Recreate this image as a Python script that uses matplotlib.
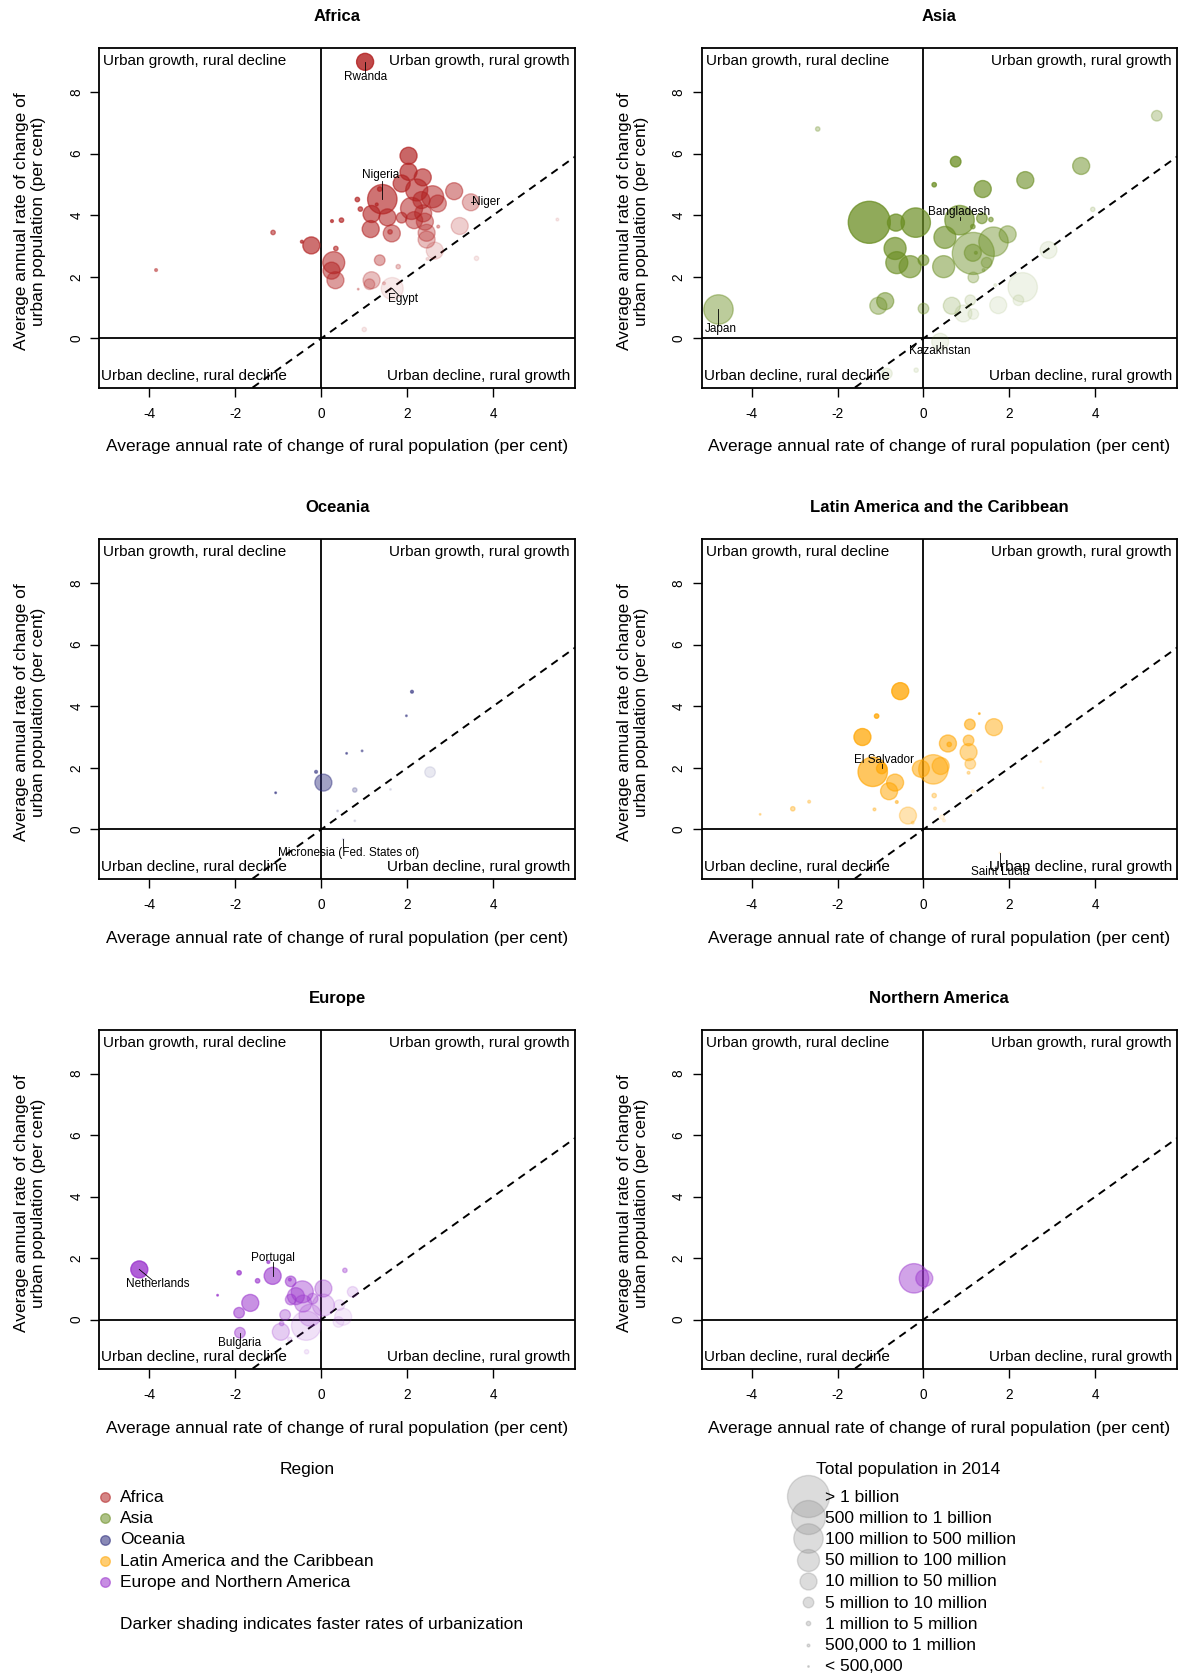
import numpy as np
import matplotlib
matplotlib.use("Agg")
import matplotlib.pyplot as plt
from matplotlib import colors as mcolors

plt.rcParams['font.family'] = ['Liberation Sans', 'DejaVu Sans']
plt.rcParams['axes.unicode_minus'] = False

# population class: 0 >1bn, 1 500m-1bn, 2 100-500m, 3 50-100m, 4 10-50m,
# 5 5-10m, 6 1-5m, 7 500k-1m, 8 <500k
africa_rural = [1.02, 2.03, 2.03, 2.36, 1.42, 1.87, 2.22, 2.59, 2.33, 2.71, 2.10, 2.37, 3.09, 3.48,
                1.17, 1.54, 1.87, 2.16, 2.41, 1.15, 1.64, 2.45, 2.45, 3.22, 2.64, -0.23, 0.29, 0.24,
                0.33, 1.17, 1.12, 1.65, 1.36, -1.12, -3.84, -0.45, 0.25, 0.47, 0.34, 0.84, 0.91,
                1.29, 1.36, 1.60, 1.79, 2.72, 3.61, 5.49, 1.00, 0.86, 1.46, 2.47]
africa_urban = [8.98, 5.93, 5.41, 5.23, 4.52, 5.03, 4.82, 4.60, 4.49, 4.38, 4.22, 4.06, 4.78, 4.42,
                4.04, 3.93, 3.92, 3.84, 3.79, 3.55, 3.41, 3.43, 3.21, 3.65, 2.85, 3.02, 2.46, 2.20,
                1.89, 1.89, 1.76, 1.62, 2.54, 3.44, 2.22, 3.14, 3.81, 3.84, 2.92, 4.51, 4.20,
                4.35, 4.85, 3.46, 2.33, 3.63, 2.60, 3.86, 0.29, 1.60, 1.79, 2.58]
africa_pop = [4, 4, 4, 4, 2, 4, 3, 3, 4, 4, 3, 4, 4, 4, 4, 4, 5, 4, 4, 4, 4, 4, 4, 4, 4, 4, 3, 4,
              4, 4, 5, 3, 5, 6, 7, 7, 7, 6, 6, 6, 6, 7, 6, 6, 6, 7, 6, 7, 6, 8, 7, 7]

asia_rural = [-1.26, 1.16, -0.18, -0.64, 0.84, -0.66, -0.62, -0.31, 0.00, 0.50, 0.47, 1.63, 1.96,
              1.38, 2.37, 3.67, 0.75, 5.43, -2.46, 0.25, 1.36, 1.57, 3.94, 2.91, 2.31, 2.21, 1.74,
              1.09, 0.66, 0.93, 1.16, 0.00, -0.89, -1.05, -4.77, 0.39, -0.17, -0.85, 1.16, 1.40,
              1.47, 1.22, 1.15, 1.67, 1.15]
asia_urban = [3.77, 2.76, 3.76, 3.76, 3.84, 2.92, 2.46, 2.33, 2.54, 3.28, 2.33, 3.14, 3.38, 4.85,
              5.14, 5.60, 5.74, 7.23, 6.80, 4.99, 3.90, 3.86, 4.19, 2.87, 1.66, 1.24, 1.08, 1.24,
              1.06, 0.81, 0.79, 0.97, 1.21, 1.06, 0.94, -0.11, -1.03, -1.14, 1.98, 2.22, 2.46,
              2.78, 2.78, 1.73, 3.63]
asia_pop = [0, 0, 2, 4, 2, 3, 3, 3, 5, 3, 3, 2, 4, 4, 4, 4, 5, 5, 6, 6, 5, 6, 6, 4, 2, 5, 4, 5,
            4, 4, 5, 5, 4, 4, 2, 4, 6, 5, 5, 7, 5, 7, 4, 7, 6]

oceania_rural = [0.05, 2.53, 0.78, -0.12, 2.11, 1.98, 0.59, 0.95, -1.06, 0.38, 0.78, 1.61, 0.51]
oceania_urban = [1.52, 1.86, 1.28, 1.87, 4.47, 3.69, 2.47, 2.55, 1.19, 0.60, 0.28, 1.30, -0.32]
oceania_pop = [4, 5, 6, 7, 7, 8, 8, 8, 8, 8, 8, 8, 8]

latam_rural = [-0.54, -1.42, -1.09, -0.97, -1.18, -0.66, -0.80, -0.36, -0.25, -0.06, 0.23, 0.40,
               0.57, 0.60, 1.05, 1.05, 1.08, 1.64, 1.09, -3.80, -3.04, -2.66, -1.14, -0.62, 0.25,
               0.27, 0.43, 0.48, 1.05, 1.15, 1.30, 2.73, 2.78, 1.78]
latam_urban = [4.49, 3.00, 3.68, 1.98, 1.87, 1.52, 1.24, 0.45, 0.22, 1.97, 1.95, 2.06, 2.79, 2.76,
               2.51, 2.89, 3.41, 3.32, 2.13, 0.49, 0.67, 0.90, 0.65, 0.89, 1.10, 0.68, 0.40, 0.29,
               1.84, 1.24, 3.76, 2.20, 1.35, -0.76]
latam_pop = [4, 4, 6, 5, 2, 4, 4, 4, 7, 4, 2, 4, 4, 6, 4, 5, 5, 4, 5, 8, 6, 7, 7, 7, 6, 7, 6, 7,
             7, 7, 8, 8, 8, 8]

europe_rural = [-4.23, -1.13, -1.91, -1.48, -2.41, -1.65, -1.91, -1.89, -0.94, -0.84, -0.92, -0.71,
                -0.44, -0.59, -0.71, -0.20, -0.42, 0.05, 0.05, -0.26, -0.35, 0.51, 0.40, 0.42, 0.73,
                0.55, -0.73, -0.34, -1.23, -0.73]
europe_urban = [1.63, 1.42, 1.52, 1.26, 0.79, 0.54, 0.22, -0.43, -0.40, 0.15, -0.13, 1.24, 0.90,
                0.76, 0.65, 0.68, 0.52, 1.01, 0.47, 0.14, -0.20, 0.09, -0.08, 0.47, 0.90, 1.60,
                -0.65, -1.05, 1.87, 1.30]
europe_pop = [4, 4, 6, 6, 8, 4, 5, 5, 4, 5, 6, 5, 3, 4, 5, 5, 4, 4, 3, 3, 2, 4, 5, 5, 5, 6, 6, 6,
              7, 7]

namerica_rural = [-0.22, 0.02]
namerica_urban = [1.34, 1.34]
namerica_pop = [2, 4]

# already highly urban countries: slower urbanization than the gap suggests (index: shade)
africa_shade = {34: 0.45, 33: 0.55}
asia_shade = {34: 0.45, 17: 0.3, 18: 0.3, 32: 0.5, 33: 0.4}
latam_shade = {19: 0.3, 20: 0.35, 21: 0.3, 22: 0.35}
europe_shade = {}

# labelled countries: index, text offset, line end offset (data units)
africa_labels = [("Rwanda", 0, (0.0, -0.5), (0.0, -0.35)),
                 ("Nigeria", 4, (-0.04, 0.78), (0.0, 0.6)),
                 ("Niger", 13, (0.36, 0.02), (0.1, 0.0)),
                 ("Egypt", 31, (0.26, -0.34), (0.14, -0.2))]
asia_labels = [("Bangladesh", 4, (0.0, 0.25), (0.0, 0.1)),
               ("Japan", 34, (0.06, -0.65), (0.0, -0.5)),
               ("Kazakhstan", 35, (-0.02, -0.3), (0.0, -0.2))]
oceania_labels = [("Micronesia (Fed. States of)", 12, (0.13, -0.44), (0.0, -0.27))]
latam_labels = [("El Salvador", 3, (0.05, 0.27), (0.0, 0.15)),
                ("Saint Lucia", 33, (0.0, -0.63), (0.0, -0.42))]
europe_labels = [("Netherlands", 0, (0.42, -0.46), (0.3, -0.35)),
                 ("Portugal", 1, (0.0, 0.59), (0.0, 0.45)),
                 ("Bulgaria", 7, (-0.02, -0.35), (0.0, -0.22))]

region_names = ["Africa", "Asia", "Oceania", "Latin America and the Caribbean",
                "Europe and Northern America"]
region_colors = ["#b22222", "#6b8e23", "#28287a", "#ffa500", "#9932cc"]
size_labels = ["> 1 billion", "500 million to 1 billion", "100 million to 500 million",
               "50 million to 100 million", "10 million to 50 million", "5 million to 10 million",
               "1 million to 5 million", "500,000 to 1 million", "< 500,000"]
size_radius_px = [21, 17, 14.7, 11, 8.5, 5.3, 2.2, 1.4, 0.8]

W, H = 1178, 1676
fig = plt.figure(figsize=(W / 100, H / 100), dpi=100)


def box(left, top, right, bottom):
    return [left / W, 1 - bottom / H, (right - left) / W, (bottom - top) / H]


def area(r_px):
    return (2 * r_px * 0.72) ** 2


def draw_panel(pos, title, rural, urban, pop, color, labels, shade):
    ax = fig.add_axes(box(*pos))
    rural = np.array(rural)
    urban = np.array(urban)
    ax.set_xlim(-5.16, 5.9)
    ax.set_ylim(-1.61, 9.42)
    ax.axhline(0, color='black', lw=1.3, zorder=1)
    ax.axvline(0, color='black', lw=1.3, zorder=1)
    ax.plot([-7, 8], [-7, 8], color='black', lw=1.4, ls=(0, (4, 3)), zorder=1)

    speed = np.clip(urban - rural, 0, None)
    alpha = 0.1 + 0.75 * (1 - np.exp(-speed / 2.5))
    for i, a in shade.items():
        alpha[i] = a
    base = mcolors.to_rgb(color)
    rgba = [(base[0], base[1], base[2], a) for a in alpha]
    sizes = [area(size_radius_px[p]) for p in pop]
    ax.scatter(rural, urban, s=sizes, c=rgba, edgecolors=rgba, linewidths=1.0, zorder=2)

    for name, i, toff, loff in labels:
        x, y = rural[i], urban[i]
        ax.plot([x, x + loff[0]], [y, y + loff[1]], color='black', lw=0.6, zorder=3)
        ax.text(x + toff[0], y + toff[1], name, fontsize=8.5, ha='center', va='center', zorder=4)

    q = dict(xycoords='axes fraction', textcoords='offset pixels', fontsize=11, va='center')
    ax.annotate("Urban growth, rural decline", (0, 1), xytext=(4, -13), ha='left', **q)
    ax.annotate("Urban growth, rural growth", (1, 1), xytext=(-5, -13), ha='right', **q)
    ax.annotate("Urban decline, rural decline", (0, 0), xytext=(2, 12), ha='left', **q)
    ax.annotate("Urban decline, rural growth", (1, 0), xytext=(-5, 12), ha='right', **q)

    ax.set_xticks([-4, -2, 0, 2, 4])
    ax.set_yticks([0, 2, 4, 6, 8])
    ax.set_yticklabels(["0", "2", "4", "6", "8"], rotation=90, va='center')
    ax.tick_params(axis='x', length=6.5, width=1, labelsize=9.8, pad=7)
    ax.tick_params(axis='y', length=6.5, width=1, labelsize=9.8, pad=5)
    for sp in ax.spines.values():
        sp.set_linewidth(1.3)

    hgt = pos[3] - pos[1]
    wid = pos[2] - pos[0]
    ax.text(0.5, -59 / hgt, "Average annual rate of change of rural population (per cent)",
            transform=ax.transAxes, ha='center', va='center', fontsize=12.5)
    ax.text(-69 / wid, 0.49, "Average annual rate of change of\nurban population (per cent)",
            transform=ax.transAxes, ha='center', va='center', rotation=90, fontsize=12.5,
            linespacing=1.2, multialignment='center')
    fig.text((pos[0] + pos[2]) / 2 / W, 1 - (pos[1] - 32) / H, title, ha='center', va='center',
             fontsize=12, fontweight='bold')


cols = [(99.3, 575), (701.7, 1177)]
rows = [(48.3, 388), (539.3, 879), (1030, 1369)]

panels = [
    ("Africa", africa_rural, africa_urban, africa_pop, region_colors[0], africa_labels, africa_shade),
    ("Asia", asia_rural, asia_urban, asia_pop, region_colors[1], asia_labels, asia_shade),
    ("Oceania", oceania_rural, oceania_urban, oceania_pop, region_colors[2], oceania_labels, {}),
    ("Latin America and the Caribbean", latam_rural, latam_urban, latam_pop, region_colors[3],
     latam_labels, latam_shade),
    ("Europe", europe_rural, europe_urban, europe_pop, region_colors[4], europe_labels, europe_shade),
    ("Northern America", namerica_rural, namerica_urban, namerica_pop, region_colors[4], [], {}),
]

for k, (title, r, u, p, c, lab, sh) in enumerate(panels):
    cx = cols[k % 2]
    ry = rows[k // 2]
    draw_panel((cx[0], ry[0], cx[1], ry[1]), title, r, u, p, c, lab, sh)

# legends drawn in pixel space
leg = fig.add_axes([0, 0, 1, 1])
leg.set_xlim(0, W)
leg.set_ylim(H, 0)
leg.axis('off')

leg.text(307, 1469, "Region", ha='center', va='center', fontsize=12.5)
row_y = [1497, 1518.3, 1539.6, 1561, 1582.3]
for name, col, y in zip(region_names, region_colors, row_y):
    rgb = mcolors.to_rgb(col)
    leg.scatter([105], [y], s=area(4.8), color=(*rgb, 0.55), edgecolors=[(*rgb, 0.55)], linewidths=1)
    leg.text(120, y, name, ha='left', va='center', fontsize=12.5)
leg.text(120, 1624, "Darker shading indicates faster rates of urbanization", ha='left',
         va='center', fontsize=12.5)

leg.text(816, 1469, "Total population in 2014", ha='left', va='center', fontsize=12.5)
size_y = [1497.3, 1518.3, 1539.3, 1560.7, 1581.7, 1603.3, 1624.3, 1645.7, 1666.7]
for lab, r, y in zip(size_labels, size_radius_px, size_y):
    leg.scatter([808], [y - 1], s=area(r), color=(0.55, 0.55, 0.55, 0.3),
                edgecolors=[(0.55, 0.55, 0.55, 0.3)], linewidths=1)
    leg.text(825, y, lab, ha='left', va='center', fontsize=12.5)

fig.savefig("out.png", dpi=100)
